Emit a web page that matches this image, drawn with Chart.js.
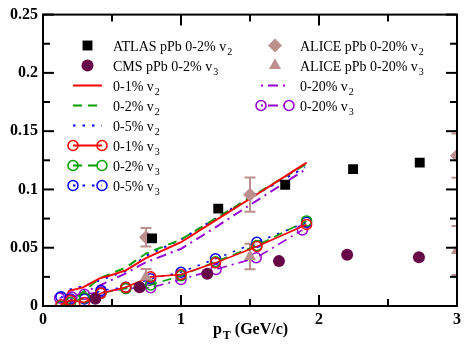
<!DOCTYPE html>
<html>
<head>
<meta charset="UTF-8">
<title>pPb v2 v3</title>
<script src="https://cdn.jsdelivr.net/npm/chart.js@4"></script>
<style>
  body { margin: 0; background: #fff; }
  canvas { display: block; }
</style>
</head>
<body>
<canvas id="flowChart" width="465" height="345"></canvas>
<script>
// axis ticks
const xTickLabels = ['0', '1', '2', '3'];
const yTickLabels = ['0', '0.05', '0.1', '0.15', '0.2', '0.25'];

const atlasPt = [0.79, 1.27, 1.755, 2.247, 2.73];
const atlasV2 = [0.058, 0.0835, 0.104, 0.1174, 0.123];
const cmsPt = [0.379, 0.70, 1.19, 1.71, 2.204, 2.724];
const cmsV3 = [0.0063, 0.016, 0.0277, 0.0385, 0.0439, 0.0419];
const alicePt = [0.746, 1.5, 3.0];
const aliceV2 = [0.059, 0.0955, 0.129];
const aliceV2Err = [0.008, 0.0147, 0.019];
const aliceV3 = [0.0248, 0.0425, 0.0476];
const aliceV3Err = [0.007, 0.011, 0.021];

// model v2 curves
const v2Pt01 = [0.13, 0.19, 0.29, 0.41, 0.48, 0.6, 0.746, 1.0, 1.25, 1.5, 1.91];
const v2Cent01 = [0.0, 0.013, 0.016, 0.0237, 0.026, 0.0305, 0.041, 0.0547, 0.0735, 0.092, 0.123];
const v2Pt02 = [0.17, 0.29, 0.41, 0.6, 0.746, 1.0, 1.25, 1.5, 1.91];
const v2Cent02 = [0.0, 0.012, 0.0237, 0.033, 0.045, 0.057, 0.075, 0.093, 0.122];
const v2Pt05 = [0.13, 0.19, 0.29, 0.41, 0.6, 0.746, 1.0, 1.25, 1.5, 1.9];
const v2Cent05 = [0.0106, 0.014, 0.017, 0.022, 0.030, 0.043, 0.057, 0.075, 0.093, 0.119];
const v2Pt20 = [0.2, 0.4, 0.6, 0.746, 1.0, 1.25, 1.5, 1.9];
const v2Cent20 = [0.007, 0.017, 0.028, 0.0376, 0.049, 0.0675, 0.0867, 0.117];

// model v3 curves
const v3Pt = [0.13, 0.2, 0.3, 0.42, 0.6, 0.78, 1.0, 1.25, 1.55, 1.91];
const v3Cent01 = [0.001, 0.005, 0.003, 0.011, 0.016, 0.025, 0.027, 0.037, 0.051, 0.070];
const v3Cent02 = [0.0, 0.003, 0.007, 0.011, 0.015, 0.018, 0.026, 0.038, 0.052, 0.073];
const v3Cent05 = [0.008, 0.006, 0.006, 0.0134, 0.016, 0.0234, 0.029, 0.0405, 0.0547, 0.0718];
const v3Pt20 = [0.12, 0.21, 0.3, 0.42, 0.6, 0.78, 1.0, 1.254, 1.545, 1.88];
const v3Cent20 = [0.0068, 0.0077, 0.010, 0.012, 0.015, 0.0157, 0.0228, 0.0314, 0.0414, 0.0653];

const pts = (xs, ys) => xs.map((x, i) => ({ x: x, y: ys[i] }));

const SERIF = '"Liberation Serif", "Times New Roman", serif';
const RED = '#ff0000', GREEN = '#00a000', BLUE = '#0000ff', VIOLET = '#9400d3';
const ALICE = '#bc8f8f', MAROON = '#670748';
const DASH = [9, 6], DOT = [2.5, 7], DASHDOT = [2, 5, 10, 5];

function markers(label, data, style, radius, color) {
    return { label, data, showLine: false, pointStyle: style, pointRadius: radius,
             pointBackgroundColor: color, pointBorderColor: color, pointBorderWidth: 0, order: 0 };
}
function curve(label, data, color, dash) {
    return { label, data, showLine: true, borderColor: color, borderWidth: 2, borderDash: dash,
             pointRadius: 0, tension: 0, order: 2 };
}
function curveOpen(label, data, color, dash) {
    return { label, data, showLine: true, borderColor: color, borderWidth: 1.6, borderDash: dash,
             pointStyle: 'circle', pointRadius: 5, pointBackgroundColor: 'rgba(0,0,0,0)',
             pointBorderColor: color, pointBorderWidth: 1.5, tension: 0, order: 1 };
}

const datasets = [
    markers('ATLAS pPb 0-2% v2', pts(atlasPt, atlasV2), 'rect', 7, '#000'),
    markers('CMS pPb 0-2% v3', pts(cmsPt, cmsV3), 'circle', 6, MAROON),
    curve('0-1% v2', pts(v2Pt01, v2Cent01), RED, []),
    curve('0-2% v2', pts(v2Pt02, v2Cent02), GREEN, DASH),
    curve('0-5% v2', pts(v2Pt05, v2Cent05), BLUE, DOT),
    curveOpen('0-1% v3', pts(v3Pt, v3Cent01), RED, []),
    curveOpen('0-2% v3', pts(v3Pt, v3Cent02), GREEN, DASH),
    curveOpen('0-5% v3', pts(v3Pt, v3Cent05), BLUE, DOT),
    Object.assign(markers('ALICE pPb 0-20% v2', pts(alicePt, aliceV2), 'rectRot', 7, ALICE), { clip: 0, errors: aliceV2Err }),
    Object.assign(markers('ALICE pPb 0-20% v3', pts(alicePt, aliceV3), 'triangle', 7, ALICE), { clip: 0, errors: aliceV3Err }),
    curve('0-20% v2', pts(v2Pt20, v2Cent20), VIOLET, DASHDOT),
    curveOpen('0-20% v3', pts(v3Pt20, v3Cent20), VIOLET, DASHDOT)
];

const legendLeft = [0, 1, 2, 3, 4, 5, 6, 7];
const legendRight = [8, 9, 10, 11];

function line(ctx, x1, y1, x2, y2) {
    ctx.beginPath(); ctx.moveTo(x1, y1); ctx.lineTo(x2, y2); ctx.stroke();
}

// text with a subscript tail, e.g. "0-1% v" + "2"
function subText(ctx, main, sub, x, y, size, bold) {
    const w = bold ? 'bold ' : '';
    ctx.font = w + size + 'px ' + SERIF;
    ctx.fillText(main, x, y);
    const mw = ctx.measureText(main).width;
    ctx.font = w + Math.round(size * 0.72) + 'px ' + SERIF;
    ctx.fillText(sub, x + mw + 1, y + size * 0.33);
    return x + mw + 1 + ctx.measureText(sub).width;
}

function drawMarker(ctx, ds, x, y) {
    ctx.save();
    ctx.setLineDash([]);
    ctx.fillStyle = ds.pointBackgroundColor;
    ctx.strokeStyle = ds.pointBorderColor;
    ctx.lineWidth = ds.pointBorderWidth;
    Chart.helpers.drawPoint(ctx, { pointStyle: ds.pointStyle, radius: ds.pointRadius, rotation: 0,
                                   borderWidth: ds.pointBorderWidth }, x, y);
    ctx.restore();
}

const framePlugin = {
    id: 'frame',
    beforeDatasetsDraw(chart) {
        const ctx = chart.ctx, a = chart.chartArea;
        const xs = chart.scales.x, ys = chart.scales.y;
        ctx.save();
        ctx.beginPath(); ctx.rect(a.left, a.top, a.right - a.left, a.bottom - a.top); ctx.clip();
        ctx.strokeStyle = ALICE; ctx.lineWidth = 2;
        chart.data.datasets.forEach(ds => {
            if (!ds.errors) return;
            ds.data.forEach((p, i) => {
                const px = xs.getPixelForValue(p.x);
                const hi = ys.getPixelForValue(p.y + ds.errors[i]);
                const lo = ys.getPixelForValue(p.y - ds.errors[i]);
                line(ctx, px, hi, px, lo);
                line(ctx, px - 5.5, hi, px + 5.5, hi);
                line(ctx, px - 5.5, lo, px + 5.5, lo);
            });
        });
        ctx.restore();
    },
    afterDraw(chart) {
        const ctx = chart.ctx, a = chart.chartArea;
        const xs = chart.scales.x, ys = chart.scales.y;
        ctx.save();
        ctx.strokeStyle = '#000'; ctx.lineWidth = 2; ctx.setLineDash([]);
        ctx.strokeRect(a.left, a.top, a.right - a.left, a.bottom - a.top);
        // inward ticks on all four sides
        for (let i = 0; i <= 6; i++) {
            const px = xs.getPixelForValue(i * 0.5), len = i % 2 ? 7 : 11;
            line(ctx, px, a.bottom, px, a.bottom - len);
            line(ctx, px, a.top, px, a.top + len);
        }
        for (let i = 0; i <= 10; i++) {
            const py = ys.getPixelForValue(i * 0.025), len = i % 2 ? 7 : 11;
            line(ctx, a.left, py, a.left + len, py);
            line(ctx, a.right, py, a.right - len, py);
        }
        // axis title p_T (GeV/c)
        ctx.fillStyle = '#000'; ctx.textBaseline = 'alphabetic'; ctx.textAlign = 'left';
        ctx.font = 'bold 16px ' + SERIF;
        const titleW = ctx.measureText('p (GeV/c)').width + 8;
        let tx = (a.left + a.right) / 2 - titleW / 2;
        tx = subText(ctx, 'p', 'T', tx, 334, 16, true);
        ctx.font = 'bold 16px ' + SERIF;
        ctx.fillText(' (GeV/c)', tx, 334);
        // legend, two columns
        const cols = [
            { list: legendLeft, x1: 73, x2: 102, tx: 113 },
            { list: legendRight, x1: 261, x2: 289, tx: 300 }
        ];
        cols.forEach(col => {
            col.list.forEach((di, row) => {
                const ds = chart.data.datasets[di];
                const y = 45.5 + row * 20;
                if (ds.showLine) {
                    ctx.save();
                    ctx.strokeStyle = ds.borderColor; ctx.lineWidth = 2;
                    ctx.setLineDash(ds.borderDash || []);
                    line(ctx, col.x1, y, col.x2, y);
                    ctx.restore();
                    if (ds.pointRadius > 0) {
                        drawMarker(ctx, ds, col.x1, y);
                        drawMarker(ctx, ds, col.x2, y);
                    }
                } else {
                    drawMarker(ctx, ds, (col.x1 + col.x2) / 2, y);
                }
                ctx.fillStyle = '#000';
                subText(ctx, ds.label.slice(0, -1), ds.label.slice(-1), col.tx, y + 5, 14, false);
            });
        });
        ctx.restore();
    }
};

const tickFont = { family: SERIF, size: 16, weight: 'bold' };

new Chart(document.getElementById('flowChart'), {
    type: 'scatter',
    data: { datasets: datasets },
    options: {
        responsive: false,
        animation: false,
        layout: { padding: { top: 13, right: 5, left: 0, bottom: 0 } },
        plugins: { legend: { display: false }, tooltip: { enabled: false } },
        scales: {
            x: {
                min: 0, max: 3,
                afterBuildTicks: s => { s.ticks = xTickLabels.map(t => ({ value: Number(t) })); },
                afterFit: s => { s.height = 39; },
                ticks: { callback: (v, i) => xTickLabels[i], font: tickFont, color: '#000', padding: 4, maxRotation: 0 },
                grid: { display: false, drawTicks: false },
                border: { display: false }
            },
            y: {
                min: 0, max: 0.25,
                afterBuildTicks: s => { s.ticks = yTickLabels.map(t => ({ value: Number(t) })); },
                afterFit: s => { s.width = 43; },
                ticks: { callback: (v, i) => yTickLabels[i], font: tickFont, color: '#000', padding: 5 },
                grid: { display: false, drawTicks: false },
                border: { display: false }
            }
        }
    },
    plugins: [framePlugin]
});
</script>
</body>
</html>
